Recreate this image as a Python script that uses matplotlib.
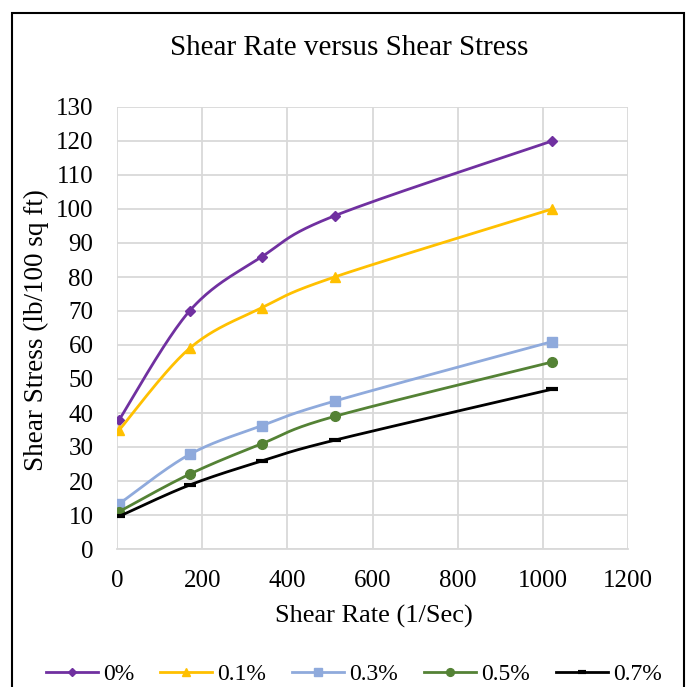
import numpy as np
import matplotlib.pyplot as plt
from matplotlib.patches import Rectangle
from matplotlib.lines import Line2D

plt.rcParams['font.family'] = ['Liberation Serif', 'DejaVu Serif']

# shear rate (1/sec) for the viscometer readings
rate = [5.11, 170.3, 340.6, 510.9, 1021.8]

# shear stress (lb/100 sq ft) for each concentration
s_0 = [38, 70, 86, 98, 120]
s_01 = [35, 59, 71, 80, 100]
s_03 = [13.3, 27.8, 36.3, 43.5, 61]
s_05 = [11, 22, 31, 39, 55]
s_07 = [9.6, 18.8, 25.9, 32, 47]

labels = ['0%', '0.1%', '0.3%', '0.5%', '0.7%']
series = [s_0, s_01, s_03, s_05, s_07]
colors = ['#7030A0', '#FFC000', '#8FAADC', '#548235', '#000000']
markers = ['D', '^', 's', 'o', '_']
msizes = [5, 7, 7, 7, 8]


def smooth(x, y, n=40):
    # bezier smoothing through the points, like a spreadsheet "smoothed line"
    p = np.column_stack([x, y]).astype(float)
    pts = np.vstack([p[0], p, p[-1]])
    out = []
    for i in range(1, len(pts) - 2):
        p0, p1 = pts[i], pts[i + 1]
        c1 = p0 + (pts[i + 1] - pts[i - 1]) / 6
        c2 = p1 - (pts[i + 2] - pts[i]) / 6
        t = np.linspace(0, 1, n)[:, None]
        out.append((1 - t) ** 3 * p0 + 3 * (1 - t) ** 2 * t * c1
                   + 3 * (1 - t) * t ** 2 * c2 + t ** 3 * p1)
    c = np.vstack(out)
    return c[:, 0], c[:, 1]


W = 687
fig = plt.figure(figsize=(6.87, 6.87), dpi=100)
# chart border (bottom edge runs off the canvas)
fig.patches.append(Rectangle((12 / W, -0.1), 672 / W, 1.1 - 13 / W,
                             transform=fig.transFigure, fill=False,
                             edgecolor='black', linewidth=1.5))

ax = fig.add_axes([117 / W, 1 - 549 / W, 511 / W, 442 / W])

for y, lab, col, m, ms in zip(series, labels, colors, markers, msizes):
    sx, sy = smooth(rate, y)
    ax.plot(sx, sy, color=col, linewidth=2, label=lab, solid_capstyle='round')
    if m == '_':
        ax.plot(rate, y, linestyle='none', marker=m, color=col,
                markersize=ms, markeredgewidth=3)
    else:
        ax.plot(rate, y, linestyle='none', marker=m, color=col,
                markersize=ms, markeredgecolor=col)

ax.set_xlim(0, 1200)
ax.set_ylim(0, 130)
ax.set_xticks(np.arange(0, 1201, 200))
ax.set_yticks(np.arange(0, 131, 10))
ax.grid(True, color='#D9D9D9', linewidth=1.3)
ax.set_axisbelow(True)
for s in ax.spines.values():
    s.set_visible(False)
ax.spines['bottom'].set_visible(True)
ax.spines['bottom'].set_color('#D9D9D9')
ax.spines['bottom'].set_linewidth(1.3)
ax.tick_params(length=0, labelsize=18)
ax.tick_params(axis='y', pad=17)
ax.tick_params(axis='x', pad=15)

fig.text(349 / W, 1 - 48 / W, 'Shear Rate versus Shear Stress',
         fontsize=21, ha='center', va='center')
fig.text(373.5 / W, 1 - 616 / W, 'Shear Rate (1/Sec)',
         fontsize=19, ha='center', va='center')
fig.text(36 / W, 1 - 330 / W, 'Shear Stress (lb/100 sq ft)',
         fontsize=19.5, ha='center', va='center', rotation=90)

handles = [Line2D([], [], color=c, linewidth=2, marker=m, markersize=ms * 0.8,
                  markeredgewidth=3 if m == '_' else 1)
           for c, m, ms in zip(colors, markers, msizes)]
fig.legend(handles, labels, loc='center', bbox_to_anchor=(354 / W, 1 - 674 / W),
           ncol=5, frameon=False, fontsize=17, handlelength=2.2,
           handletextpad=0.22, columnspacing=1.1)

fig.savefig('out.png', dpi=100)
